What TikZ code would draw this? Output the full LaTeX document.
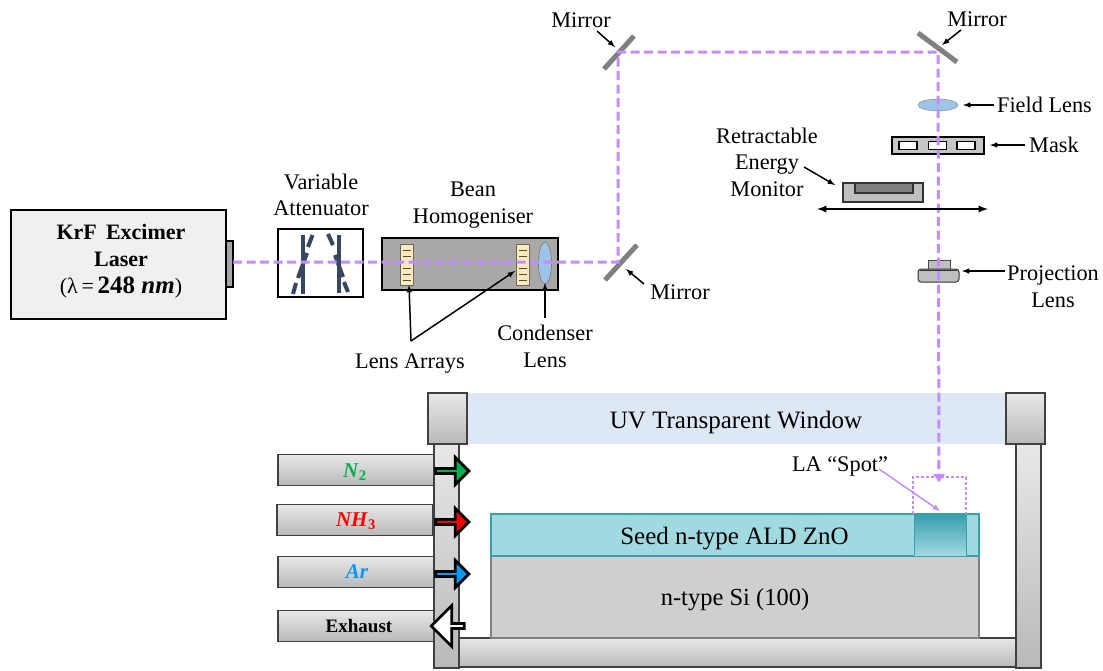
\documentclass[tikz,border=0pt]{standalone}
\usepackage{fontspec}
\setmainfont{Liberation Serif}
\usetikzlibrary{shapes.geometric,shapes.arrows}
\definecolor{beam}{HTML}{C48CFF}
\definecolor{barblue}{HTML}{36475F}
\definecolor{lensblue}{HTML}{9DC3E6}
\definecolor{arraycream}{HTML}{FDE9B9}
\definecolor{znofill}{HTML}{A0D9E0}
\definecolor{znoedge}{HTML}{3A9FAD}
\definecolor{sifill}{HTML}{D0CECE}
\definecolor{windowfill}{HTML}{DDE8F4}
\definecolor{homogfill}{HTML}{AAA7A7}
\tikzset{
  lbl/.style={inner sep=0pt,align=center,font=\fontsize{22.3}{26.5}\selectfont},
  big/.style={inner sep=0pt,font=\fontsize{25}{30}\selectfont},
  thinbox/.style={draw=black,inner sep=0pt,outer sep=0pt,line width=1.2pt},
  metal/.style={draw=black!75,line width=1.2pt,top color=gray!18,bottom color=gray!55},
  pointer/.style={->,>=latex,line width=1.5pt,black},
  beamline/.style={beam,line width=3pt,dash pattern=on 9pt off 4.5pt},
  mirrorbar/.style={gray,line width=5pt},
  gasbox/.style={metal,inner sep=0pt,minimum width=156pt,minimum height=31pt,font=\fontsize{21}{25}\selectfont},
  gasarrow/.style={single arrow,draw=black,line width=2.8pt,inner sep=0pt,minimum height=33pt,minimum width=27pt,single arrow head extend=6pt,single arrow tip angle=90},
}
\begin{document}
\begin{tikzpicture}[x=1pt,y=-1pt]
\useasboundingbox (0,0) rectangle (1103,670);
% chamber
\fill[windowfill] (467,393) rectangle (1006,444);
\draw (736,422) node (windowlabel) [big] {UV Transparent Window};
\draw[metal] (459,638) rectangle (1016,667);
\draw[metal] (434,444) rectangle (459,668);
\draw[metal] (1016,444) rectangle (1041,668);
\draw[metal] (428,393) rectangle (467,444);
\draw[metal] (1006,393) rectangle (1045,444);
% substrate
\draw[draw=gray,line width=2pt,fill=sifill] (491,556) rectangle (979,638);
\draw[draw=znoedge,line width=2.4pt,fill=znofill] (491,514) rectangle (979,556);
\fill[top color=znoedge,bottom color=znofill] (914,515) rectangle (966,555);
\draw[znoedge,line width=1pt] (914,515) -- (914,555) (966,515) -- (966,555);
\draw (734.5,539) node (znolabel) [big] {Seed n-type ALD ZnO};
\draw (735,600) node (silabel) [big,font=\fontsize{24.5}{29}\selectfont] {n-type Si (100)};
% spot
\draw[beam,line width=1.3pt,densely dashed] (913,514) -- (913,477) -- (966,477) -- (966,514);
\draw (840,466) node (spotlabel) [lbl] {LA “Spot”};
\coordinate (spottip) at (940,511);
\coordinate (spotstart) at (879,469);
\draw[->,>=latex,beam,line width=1.5pt] (spotstart) -- (spottip);
% gas lines
\draw (356,470) node (ntwo) [gasbox] {};
\draw (355,520) node (nhthree) [gasbox] {};
\draw (356,572) node (argon) [gasbox] {};
\draw (356,626) node (exhaust) [gasbox] {};
\draw (355,472) node (ntwolabel) [inner sep=0pt,font=\fontsize{21}{25}\selectfont] {\textcolor[HTML]{00B050}{\textbf{\textit{N}}$_{\mathbf{2}}$}};
\draw (356,521) node (nhthreelabel) [inner sep=0pt,font=\fontsize{21}{25}\selectfont] {\textcolor{red}{\textbf{\textit{NH}}$_{\mathbf{3}}$}};
\draw (357,572) node (argonlabel) [inner sep=0pt,font=\fontsize{21}{25}\selectfont] {\textcolor[HTML]{0A96F5}{\textbf{\textit{Ar}}}};
\draw (359,626) node (exhaustlabel) [inner sep=0pt,font=\fontsize{19}{23}\selectfont\bfseries] {Exhaust};
\draw (451,471) node (ntwoarrow) [gasarrow,fill={rgb,255:red,0;green,176;blue,80}] {};
\draw (451,522) node (nhthreearrow) [gasarrow,fill=red] {};
\draw (451,574) node (argonarrow) [gasarrow,fill={rgb,255:red,10;green,150;blue,245}] {};
\draw (449,626) node (exhaustarrow) [gasarrow,fill=white,shape border rotate=180,minimum width=41pt,single arrow head extend=10pt] {};
% laser
\draw (118.5,264.5) node (laser) [thinbox,fill=gray!12,minimum width=215pt,minimum height=109pt] {};
\draw (121,261) node (laserlabel) [inner sep=0pt,align=center,font=\fontsize{22}{27}\selectfont\bfseries] {KrF\, Excimer\\Laser\\{\mdseries(λ\,=\,}{\fontsize{25}{27}\selectfont 248 \textit{nm}}{\mdseries)}};
\draw (229.5,264) node (port) [thinbox,fill=gray!70,minimum width=7pt,minimum height=46pt] {};
\coordinate (beamstart) at (233,262);
% attenuator
\draw (320.5,263) node (atten) [thinbox,fill=white,minimum width=85pt,minimum height=68pt] {};
\draw (321,195) node (attenlabel) [lbl] {Variable\\Attenuator};
\foreach \xa/\ya/\xb/\yb in {303/235/303/294,339/235/339/293}
  \draw[barblue,line width=4.4pt] (\xa,\ya) -- (\xb,\yb);
\foreach \xa/\ya/\xb/\yb in {312.5/235/308/247,307/253/298/278,296/283/293/294,328/234/333/245,335/255/343/277,344/282/348/292}
  \draw[barblue,line width=4pt] (\xa,\ya) -- (\xb,\yb);
% homogeniser
\draw (470,264) node (homog) [thinbox,fill=homogfill,minimum width=176pt,minimum height=52pt] {};
\draw (473,205) node (homoglabel) [lbl] {Bean\\Homogeniser};
\draw (406.5,264.5) node (arrayone) [draw=black!60,fill=arraycream,inner sep=0pt,minimum width=13pt,minimum height=41pt] {};
\draw (523,264.5) node (arraytwo) [draw=black!60,fill=arraycream,inner sep=0pt,minimum width=13pt,minimum height=41pt] {};
\foreach \xc in {406.5,523}
  \foreach \yc in {250,256,268,274,280}
    \draw[black!70,line width=0.8pt] (\xc-4,\yc) -- (\xc+4,\yc);
\draw (545,263) node (condenser) [ellipse,draw=black!60,fill=lensblue,inner sep=0pt,minimum width=13pt,minimum height=42pt] {};
% optics on the right
\draw (938,105) node (fieldlens) [ellipse,draw=black!50,fill=lensblue,inner sep=0pt,minimum width=40pt,minimum height=12pt] {};
\draw (938,145.5) node (mask) [thinbox,fill=gray!45,minimum width=92pt,minimum height=17pt] {};
\foreach \xm in {908,937.5,966}
  \draw[black,line width=1.4pt,fill=white] (\xm-9,141.5) rectangle (\xm+9,149.5);
\draw (883,192.5) node (monitor) [draw=black!80,line width=1.2pt,fill=gray!50,inner sep=0pt,minimum width=80pt,minimum height=19pt] {};
\draw[draw=black!80,line width=1.2pt,fill=gray] (855,183) rectangle (913,193);
\draw (939,264.5) node (projtop) [draw=black!70,line width=1pt,fill=gray!50,inner sep=0pt,minimum width=22pt,minimum height=9pt] {};
\draw (938.5,275.5) node (projlens) [draw=black!80,line width=1pt,fill=gray!50,rounded corners=3pt,inner sep=0pt,minimum width=41pt,minimum height=13pt] {};
\draw[black!80,line width=1.6pt] (920,270.5) -- (957,270.5);
% mirrors
\coordinate (mirrorlow) at (618,262);
\coordinate (mirrorleft) at (618,52);
\coordinate (mirrorright) at (938,52);
\coordinate (spotentry) at (939,481);
\draw[mirrorbar] (605,280) -- (637,245);
\draw[mirrorbar] (604,69) -- (634,36);
\draw[mirrorbar] (918,33) -- (957,62);
% beam
\draw[beamline] (beamstart) -- (mirrorlow) -- (mirrorleft) -- (mirrorright) -- (spotentry);
\fill[beam] (933,474) -- (945,474) -- (939,482) -- cycle;
% labels and their arrows
\draw (581,20) node (mirrorleftlabel) [lbl] {Mirror};
\draw (977,19) node (mirrorrightlabel) [lbl] {Mirror};
\draw (680,292) node (mirrorlowlabel) [lbl] {Mirror};
\draw (410,364) node (arraylabel) [lbl] {Lens Arrays};
\draw (545,346.5) node (condenserlabel) [lbl] {Condenser\\Lens};
\draw (1044.5,105) node (fieldlabel) [lbl] {Field Lens};
\draw (1054,145) node (masklabel) [lbl] {Mask};
\draw (767,162) node (monitorlabel) [lbl] {Retractable\\Energy\\Monitor};
\draw (1053,286.5) node (projlabel) [lbl] {Projection\\Lens};
\coordinate (arrayfork) at (411,341);
\coordinate (arrayonetip) at (409,285);
\coordinate (arraytwotip) at (515,271);
\coordinate (monitorstart) at (804,167);
\coordinate (monitortip) at (835,185);
\coordinate (mirrorlowstart) at (644,284);
\coordinate (mirrorlowtip) at (626,269);
\coordinate (mirrorleftstart) at (597,31);
\coordinate (mirrorlefttip) at (615,47);
\coordinate (mirrorrightstart) at (961,30);
\coordinate (mirrorrighttip) at (942,45);
\coordinate (fieldstart) at (994,105);
\coordinate (fieldtip) at (963,105);
\coordinate (maskstart) at (1025,145);
\coordinate (masktip) at (990,145);
\coordinate (projstart) at (1005,271);
\coordinate (projtip) at (962,271);
\coordinate (conderstart) at (545,318);
\coordinate (condertip) at (545,283);
\coordinate (slideleft) at (817,209);
\coordinate (slideright) at (988,209);
\draw[pointer] (arrayfork) -- (arrayonetip);
\draw[pointer] (arrayfork) -- (arraytwotip);
\draw[pointer] (conderstart) -- (condertip);
\draw[pointer] (mirrorlowstart) -- (mirrorlowtip);
\draw[pointer] (mirrorleftstart) -- (mirrorlefttip);
\draw[pointer] (mirrorrightstart) -- (mirrorrighttip);
\draw[pointer] (fieldstart) -- (fieldtip);
\draw[pointer] (maskstart) -- (masktip);
\draw[pointer] (monitorstart) -- (monitortip);
\draw[pointer] (projstart) -- (projtip);
\draw[<->,>=latex,line width=2.2pt] (slideleft) -- (slideright);
\end{tikzpicture}
\end{document}
